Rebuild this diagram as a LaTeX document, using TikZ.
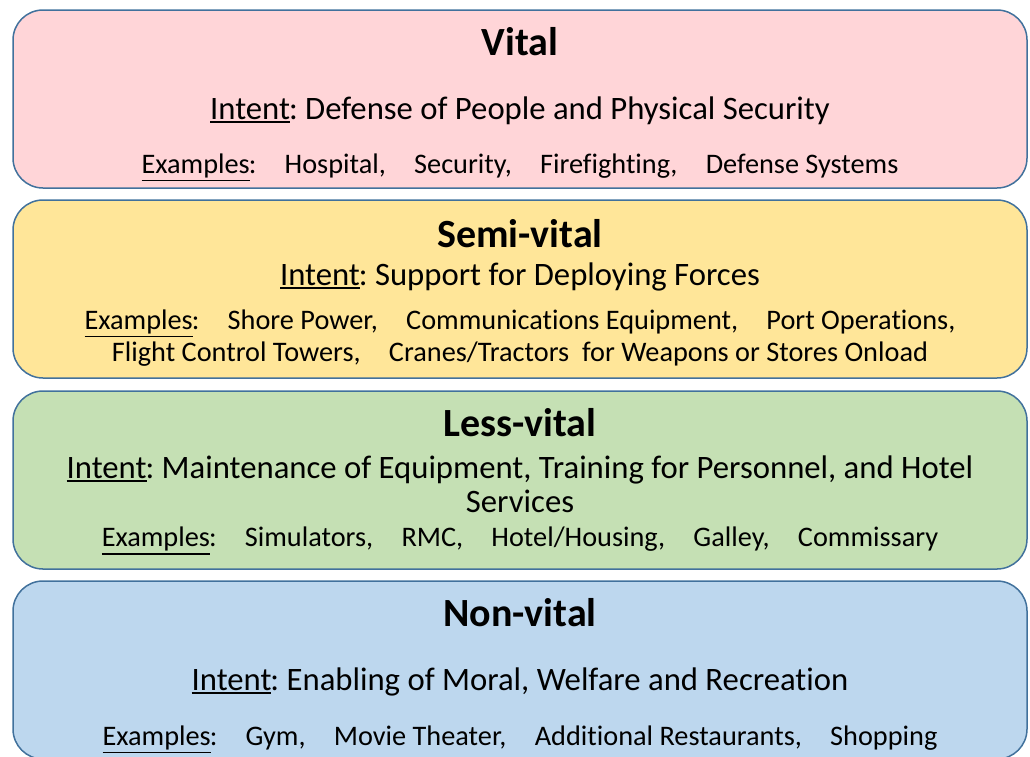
\documentclass[tikz,border=0pt]{standalone}
\usepackage{fontspec}
\setmainfont{Carlito}[Ligatures={NoCommon,NoRare,NoContextual}]
\usepackage{tikz}
\usetikzlibrary{positioning,calc}
\usepackage{xcolor}
\frenchspacing

\definecolor{tierline}{HTML}{41719C}
\definecolor{vitalfill}{HTML}{FFD5D8}
\definecolor{semifill}{HTML}{FFE699}
\definecolor{lessfill}{HTML}{C5E0B4}
\definecolor{nonfill}{HTML}{BDD7EE}

% underlined word, rule set below the descenders
\newcommand{\ulword}[1]{\leavevmode\vtop{\hbox{#1}\kern2.2pt\hrule height 1.4pt}\kern-1pt}

\begin{document}
\begin{tikzpicture}[
    x=1pt, y=-1pt,
    tier/.style={draw=tierline, line width=1.5pt, rounded corners=30pt,
        minimum width=1014pt, minimum height=178pt},
    title/.style={anchor=base, font=\bfseries\fontsize{40}{48}\selectfont},
    intent/.style={anchor=base, font=\fontsize{32.7}{39}\selectfont},
    examples/.style={anchor=base, font=\fontsize{28.3}{34}\selectfont}
]
\clip (0,0) rectangle (1030,756);

% the four tiers
\node[tier, fill=vitalfill] (vital) at (520,99) {};
\node[tier, fill=semifill] (semi) at (520,289) {};
\node[tier, fill=lessfill] (less) at (520,480) {};
\node[tier, fill=nonfill] (non) at (520,670) {};

\node[title] (vital-title) at (520,55.7) {Vital};
\node[intent] (vital-intent) at (520,119) {\ulword{Intent}: Defense of People and Physical Security};
\node[examples] (vital-ex) at (520,173.3) {\ulword{Examples}:\quad Hospital,\quad Security,\quad Firefighting,\quad Defense Systems};

\node[title] (semi-title) at (520,247.3) {Semi-vital};
\node[intent] (semi-intent) at (520,285) {\ulword{Intent}: Support for Deploying Forces};
\node[examples] (semi-ex1) at (520,329.3) {\ulword{Examples}:\quad Shore Power,\quad Communications Equipment,\quad Port Operations,};
\node[examples] (semi-ex2) at (520,361.7) {Flight Control Towers,\quad Cranes/Tractors\ \ for Weapons or Stores Onload};

\node[title] (less-title) at (520,436.7) {Less-vital};
\node[intent] (less-intent1) at (520,478) {\ulword{Intent}: Maintenance of Equipment, Training for Personnel, and Hotel};
\node[intent] (less-intent2) at (520,512.7) {Services};
\node[examples] (less-ex) at (520,546.7) {\ulword{Examples}:\quad Simulators,\quad RMC,\quad Hotel/Housing,\quad Galley,\quad Commissary};

\node[title] (non-title) at (520,626.7) {Non-vital};
\node[intent] (non-intent) at (520,690) {\ulword{Intent}: Enabling of Moral, Welfare and Recreation};
\node[examples] (non-ex) at (520,745) {\ulword{Examples}:\quad Gym,\quad Movie Theater,\quad Additional Restaurants,\quad Shopping};

\end{tikzpicture}
\end{document}
